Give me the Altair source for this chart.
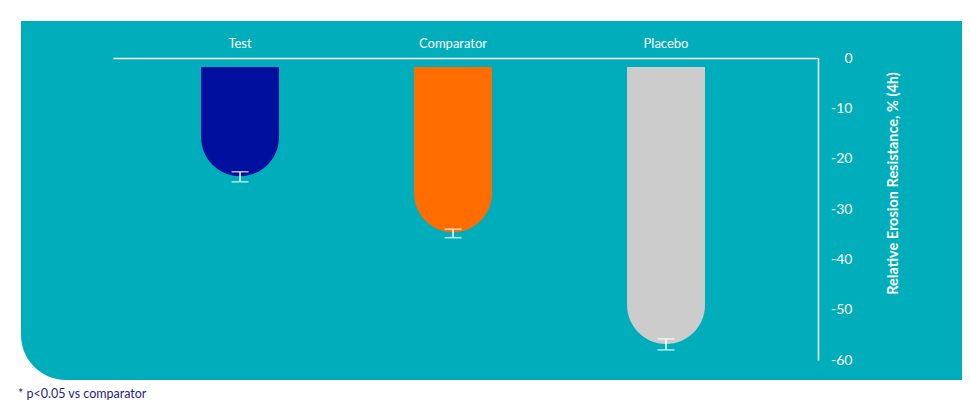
import altair as alt
import pandas as pd

# ---- data ----
categories = ["Test", "Comparator", "Placebo"]
means = [-23.5, -34.6, -56.8]
err_low = [-24.6, -35.7, -58.0]
err_high = [-22.6, -34.0, -55.8]
bar_colors = ["#000F9E", "#FF6D00", "#CCCCCC"]
y_ticks = [0, -10, -20, -30, -40, -50, -60]
y_title = "Relative Erosion Resistance, % (4h)"
footnote = "* p<0.05 vs comparator"

df = pd.DataFrame({
    "group": categories,
    "mean": means,
    "lo": err_low,
    "hi": err_high,
    "color": bar_colors,
})

FONT = "Lato"
TEAL = "#00AEBB"
NAVY_TEXT = "#1E1E8C"
W, H = 705, 302

x_enc = alt.X(
    "group:N", sort=categories, title=None,
    scale=alt.Scale(paddingInner=0.634, paddingOuter=0.472, align=0.438),
    axis=alt.Axis(orient="top", labelAngle=0, ticks=False, grid=False,
                  domainColor="white", domainWidth=1.5,
                  labelColor="white", labelFont=FONT, labelFontSize=13,
                  labelPadding=8, zindex=1),
)

y_scale = alt.Scale(domain=[-60, 0], nice=False)
y_axis = alt.Axis(orient="right", values=y_ticks, labelExpr="'' + datum.value",
                  ticks=False, grid=False, domainColor="white", domainWidth=1.5,
                  labelColor="white", labelFont=FONT, labelFontSize=14,
                  labelAlign="right", labelBaseline="middle", labelPadding=34,
                  titleColor="white", titleFont=FONT, titleFontSize=14.5,
                  titleFontWeight="bold", titleAngle=270, titleX=75, titleY=125,
                  titleAlign="center", titleBaseline="middle", zindex=1)


def Y(field, **kw):
    return alt.Y(field, title=y_title, scale=y_scale, axis=y_axis, **kw)


base = alt.Chart(df)

bg = alt.Chart(pd.DataFrame({"k": [0]})).mark_rect(
    color=TEAL, cornerRadiusBottomLeft=45
).encode(x=alt.value(-92), x2=alt.value(849), y=alt.value(-37), y2=alt.value(322))

bars = base.mark_bar(
    cornerRadiusBottomLeft=39, cornerRadiusBottomRight=39
).encode(
    x=x_enc, y=Y("mean:Q", stack=None), y2=alt.value(9),
    color=alt.Color("color:N", scale=None),
)

rule = base.mark_rule(color="white", strokeWidth=1.5).encode(
    x=x_enc, y=Y("lo:Q"), y2="hi:Q"
)
cap_lo = base.mark_tick(color="white", thickness=1.5, size=17, orient="horizontal").encode(
    x=x_enc, y=Y("lo:Q")
)
cap_hi = base.mark_tick(color="white", thickness=1.5, size=17, orient="horizontal").encode(
    x=x_enc, y=Y("hi:Q")
)

note = alt.Chart(pd.DataFrame({"note": [footnote]})).mark_text(
    align="left", baseline="middle", font=FONT, fontSize=12.5, color=NAVY_TEXT
).encode(x=alt.value(-95), y=alt.value(336), text="note:N")

chart = alt.layer(bg, bars, rule, cap_lo, cap_hi, note).properties(
    width=W, height=H,
    autosize=alt.AutoSizeParams(type="none"),
    padding={"left": 105, "top": 50, "right": 144, "bottom": 40},
    background="white",
).configure_view(stroke=None)

chart.save("out.html", embed_options={"renderer": "svg", "actions": False})
